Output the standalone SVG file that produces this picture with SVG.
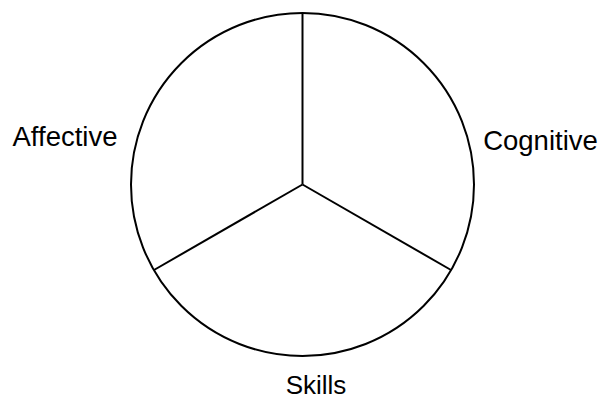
<svg xmlns="http://www.w3.org/2000/svg" width="605" height="400" viewBox="0 0 605 400">
<style>
.shape{fill:none;stroke:#000;stroke-width:2}
.lbl{font-family:"Liberation Sans",Arial,sans-serif;font-size:27.5px;fill:#000;text-anchor:middle}
</style>
<rect width="605" height="400" fill="#fff"/>
<g id="circle"><circle class="shape" cx="302.5" cy="184.5" r="171.5"/></g>
<g id="connectors">
<line class="shape" x1="302.5" y1="184.5" x2="302.5" y2="13"/>
<line class="shape" x1="302.5" y1="184.5" x2="451" y2="270"/>
<line class="shape" x1="302.5" y1="184.5" x2="154" y2="270"/>
</g>
<g id="affective"><text class="lbl" x="65" y="146">Affective</text></g>
<g id="cognitive"><text class="lbl" x="540.5" y="150">Cognitive</text></g>
<g id="skills"><text class="lbl" x="316" y="394" style="font-size:26px">Skills</text></g>
</svg>
